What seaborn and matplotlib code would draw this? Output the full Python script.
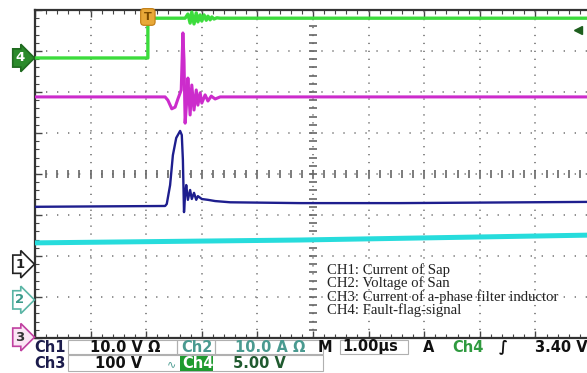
import numpy as np
import pandas as pd
import matplotlib
matplotlib.use('Agg')
import matplotlib.pyplot as plt
import matplotlib.transforms as mtransforms
from matplotlib.patches import Rectangle
import seaborn as sns

# Screen units: time in divisions (1.00 us/div), amplitude in divisions
# CH4 fault-flag signal
t_ch4 = [0, 2.03, 2.03, 2.70, 2.75, 2.79, 2.82, 2.86, 2.90, 2.93, 2.97, 3.00,
         3.04, 3.08, 3.11, 3.15, 3.18, 3.22, 3.27, 3.33, 10]
v_ch4 = [2.83, 2.83, 3.80, 3.80, 3.90, 3.68, 3.95, 3.66, 3.93, 3.71, 3.88, 3.73,
         3.88, 3.75, 3.85, 3.76, 3.83, 3.78, 3.81, 3.80, 3.80]
# CH2 voltage of San
t_ch2 = [0, 2.34, 2.39, 2.46, 2.52, 2.57, 2.63, 2.66, 2.68, 2.70, 2.73, 2.75,
         2.79, 2.82, 2.86, 2.90, 2.93, 2.97, 3.00, 3.06, 3.11, 3.17, 3.24, 3.33, 10]
v_ch2 = [1.88, 1.88, 1.80, 1.59, 1.63, 1.83, 2.05, 3.44, 2.78, 1.24, 1.80, 2.34,
         1.44, 2.17, 1.56, 2.05, 1.68, 1.98, 1.73, 1.93, 1.78, 1.90, 1.83, 1.88, 1.88]
# CH3 current of a-phase filter inductor
t_ch3 = [0, 2.34, 2.37, 2.43, 2.48, 2.54, 2.61, 2.64, 2.66, 2.68, 2.70, 2.72,
         2.75, 2.79, 2.82, 2.86, 2.90, 2.93, 3.00, 3.11, 3.24, 3.51, 4.77, 6.56, 10]
v_ch3 = [-0.80, -0.78, -0.73, -0.27, 0.46, 0.88, 1.05, 0.95, 0.34, -0.93, -0.51, -0.27,
         -0.63, -0.39, -0.61, -0.46, -0.63, -0.54, -0.61, -0.63, -0.66, -0.69, -0.71, -0.71, -0.68]
# CH1 current of Sap
t_ch1 = [0, 4.77, 10]
v_ch1 = [-1.68, -1.61, -1.49]

# channel ground markers (divisions) and trigger
marker_labels = ['1', '2', '3', '4']
marker_levels = [-2.20, -3.07, -3.98, 2.83]
trigger_time = 2.03
trigger_level_v = 3.40
ch4_scale_v = 5.00

legend_lines = ['CH1: Current of Sap', 'CH2: Voltage of San',
                'CH3: Current of a-phase filter inductor', 'CH4: Fault-flag-signal']

W, H = 587, 373
sns.set_style('white')
fig = plt.figure(figsize=(W / 100, H / 100), dpi=100)
fig.patch.set_facecolor('white')


def px(x, y):
    return x / W, 1 - y / H


ax = fig.add_axes([35 / W, 35 / H, 556 / W, 328 / H])
ax.set_xlim(0, 10)
ax.set_ylim(-4, 4)

# graticule
for gx in range(1, 10):
    ax.axvline(gx, color='#808080', lw=1.3, ls=(0, (0.7, 3.7)), zorder=1)
for gy in range(-3, 4):
    ax.axhline(gy, color='#808080', lw=1.3, ls=(0, (0.7, 5.4)), zorder=1)
fine_x = np.arange(0, 10.01, 0.2)
fine_y = np.arange(-4, 4.01, 0.2)
ax.plot(fine_x, np.zeros_like(fine_x), ls='none', marker='|', ms=6, color='#666666', mew=1.2, zorder=1)
ax.plot(np.full_like(fine_y, 5), fine_y, ls='none', marker='_', ms=6, color='#666666', mew=1.2, zorder=1)

traces = [
    (t_ch1, v_ch1, '#27dcdc', 3.6),
    (t_ch3, v_ch3, '#1e1e8e', 1.7),
    (t_ch2, v_ch2, '#cc2ccc', 2.2),
    (t_ch4, v_ch4, '#3cdc3c', 2.4),
]
for t, v, col, lw in traces:
    df = pd.DataFrame({'t': t, 'v': v})
    sns.lineplot(data=df, x='t', y='v', sort=False, estimator=None,
                 color=col, lw=lw, ax=ax, zorder=3)

ax.set_xlabel('')
ax.set_ylabel('')
ax.xaxis.set_major_locator(plt.MultipleLocator(1))
ax.yaxis.set_major_locator(plt.MultipleLocator(1))
ax.xaxis.set_minor_locator(plt.MultipleLocator(0.2))
ax.yaxis.set_minor_locator(plt.MultipleLocator(0.2))
ax.tick_params(which='both', direction='in', top=True, bottom=True, left=True, right=False,
               labelbottom=False, labelleft=False, color='#444444')
ax.tick_params(which='major', length=5, width=1)
ax.tick_params(which='minor', length=3, width=0.8)
for s in ['top', 'bottom', 'left']:
    ax.spines[s].set_color('#333333')
    ax.spines[s].set_linewidth(1.6)
ax.spines['right'].set_visible(False)

# trigger position and level markers
ax.text(trigger_time, 3.83, 'T', ha='center', va='center', fontsize=8, fontweight='bold',
        color='#7a4a00', zorder=5,
        bbox=dict(boxstyle='round,pad=0.3', fc='#e8a838', ec='#c07a10', lw=0.8))
trig_div = marker_levels[3] + trigger_level_v / ch4_scale_v
ax.plot([9.77], [trig_div], marker='<', ms=6, color='#1d5e1d', ls='none', zorder=5, clip_on=False)

# channel ground markers on the left
blend = mtransforms.blended_transform_factory(fig.transFigure, ax.transData)
styles = {
    '1': dict(fc='white', ec='#222222', tc='#222222'),
    '2': dict(fc='white', ec='#5ab5a5', tc='#3a9a8a'),
    '3': dict(fc='#fbe6f5', ec='#c040a0', tc='#333333'),
    '4': dict(fc='#2a8a2a', ec='#1f6a1f', tc='white'),
}
for lab, lev in zip(marker_labels, marker_levels):
    st = styles[lab]
    ax.text(20 / W, lev, lab, transform=blend, ha='center', va='center', fontsize=9.5,
            fontweight='bold', color=st['tc'], clip_on=False, zorder=6,
            bbox=dict(boxstyle='rarrow,pad=0.2', fc=st['fc'], ec=st['ec'], lw=1.2))

# legend text
for i, line in enumerate(legend_lines):
    fig.text(*px(327, 270 + i * 13.4), line, ha='left', va='center',
             fontsize=10.6, family='Liberation Serif', color='#222222')

# status bar
box_ec = '#b0b0b0'
for x0, x1, y0, y1 in [(68, 177, 340, 354), (177, 215, 340, 354), (215, 323, 340, 354),
                       (340, 408, 340, 354), (68, 323, 355, 371)]:
    fig.patches.append(Rectangle(px(x0, y1), (x1 - x0) / W, (y1 - y0) / H,
                                 transform=fig.transFigure, fill=False, ec=box_ec, lw=0.8))
fig.patches.append(Rectangle(px(180, 371), 33 / W, 15 / H, transform=fig.transFigure,
                             fc='#1f9a2f', ec='none'))

fk = dict(fontsize=10.5, fontweight='bold', va='center', family='DejaVu Sans')
fig.text(*px(34, 347), 'Ch1', color='#1c1c4c', ha='left', **fk)
fig.text(*px(90, 347), '10.0 V \u03a9', color='#111111', ha='left', **fk)
fig.text(*px(181, 347), 'Ch2', color='#4a9a90', ha='left', **fk)
fig.text(*px(235, 347), '10.0 A \u03a9', color='#4a9a90', ha='left', **fk)
fig.text(*px(318, 347), 'M', color='#111111', ha='left', **fk)
fig.text(*px(342, 347), '1.00\u00b5s', color='#111111', ha='left', **fk)
fig.text(*px(423, 347), 'A', color='#111111', ha='left', **fk)
fig.text(*px(452, 347), 'Ch4', color='#2f9a3f', ha='left', **fk)
fig.text(*px(503, 347), '\u222b', color='#111111', ha='center', **fk)
fig.text(*px(535, 347), '3.40 V', color='#111111', ha='left', **fk)
fig.text(*px(34, 364), 'Ch3', color='#1c1c4c', ha='left', **fk)
fig.text(*px(95, 364), '100 V', color='#111111', ha='left', **fk)
fig.text(*px(172, 364), '\u223f', color='#4a9a90', ha='center', fontsize=8, va='center')
fig.text(*px(182, 364), 'Ch4', color='white', ha='left', **fk)
fig.text(*px(233, 364), '5.00 V', color='#1f5a2f', ha='left', **fk)

fig.savefig('out.png', dpi=100, facecolor='white')
